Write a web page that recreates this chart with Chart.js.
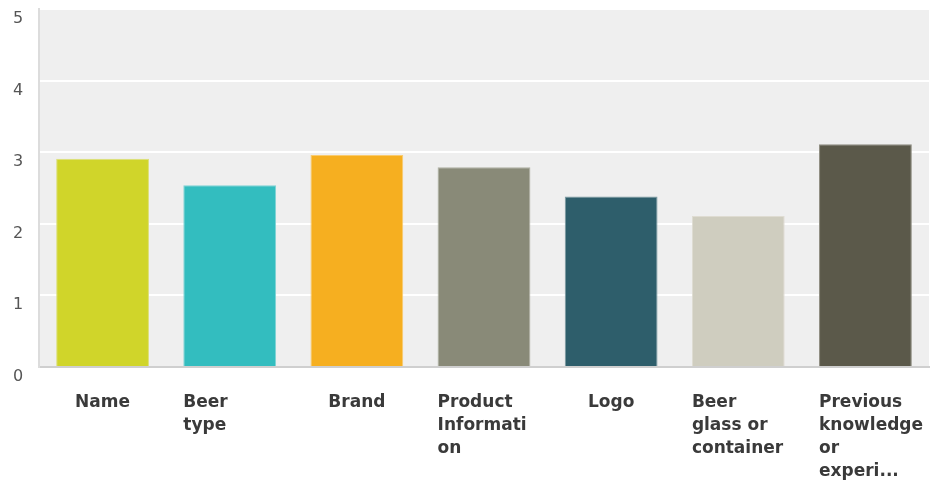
<!DOCTYPE html>
<html>
<head>
<meta charset="utf-8">
<script src="https://cdn.jsdelivr.net/npm/chart.js@4/dist/chart.umd.min.js"></script>
<style>
  body { margin: 0; background: #fff; }
  #chart { display: block; }
</style>
</head>
<body>
<canvas id="chart" width="930" height="481"></canvas>
<script>
// Category labels, already wrapped into lines
const categories = [
  ["Name"],
  ["Beer", "type"],
  ["Brand"],
  ["Product", "Informati", "on"],
  ["Logo"],
  ["Beer", "glass or", "container"],
  ["Previous", "knowledge", "or", "experi..."]
];

// Average rating per item
const values = [2.91, 2.54, 2.96, 2.79, 2.38, 2.11, 3.11];

const barColors = ["#d0d52a", "#33bdbf", "#f6af20", "#898a78", "#2e5e6b", "#cfcdbf", "#5b594a"];
const barBorders = ["#dde07a", "#7fd3d5", "#f9cb70", "#aeafa1", "#7b9aa2", "#dfdcd2", "#8f8d82"];

const yTicks = [0, 1, 2, 3, 4, 5];

// Grey plot background behind the bars
const plotBackground = {
  id: "plotBackground",
  beforeDraw(chart) {
    const { ctx, chartArea: a } = chart;
    ctx.save();
    ctx.fillStyle = "#efefef";
    ctx.fillRect(a.left, a.top, a.right - a.left, a.bottom - a.top);
    ctx.restore();
  }
};

// Axis labels: y numbers sit just under their grid line,
// x labels are centred when short and left-aligned to the bar when wrapped
const axisLabels = {
  id: "axisLabels",
  afterDraw(chart) {
    const { ctx } = chart;
    const x = chart.scales.x;
    const y = chart.scales.y;
    ctx.save();

    ctx.font = "16px 'DejaVu Sans'";
    ctx.fillStyle = "#555";
    ctx.textAlign = "center";
    ctx.textBaseline = "alphabetic";
    yTicks.forEach(v => {
      ctx.fillText(String(v), 18, y.getPixelForValue(v) + 14);
    });

    ctx.font = "bold 17px 'DejaVu Sans'";
    ctx.fillStyle = "#3a3a3a";
    const half = x.width / categories.length * 0.73 / 2;
    categories.forEach((lines, i) => {
      const cx = x.getPixelForValue(i);
      lines.forEach((line, j) => {
        const by = y.bottom + 40 + j * 23;
        if (lines.length === 1) {
          ctx.textAlign = "center";
          ctx.fillText(line, cx, by);
        } else {
          ctx.textAlign = "left";
          ctx.fillText(line, cx - half, by);
        }
      });
    });
    ctx.restore();
  }
};

new Chart(document.getElementById("chart"), {
  type: "bar",
  data: {
    labels: categories.map(l => l.join(" ")),
    datasets: [{
      data: values,
      backgroundColor: barColors,
      borderColor: barBorders,
      borderWidth: 1,
      categoryPercentage: 1,
      barPercentage: 0.73
    }]
  },
  options: {
    responsive: false,
    animation: false,
    layout: { padding: { left: 39, top: 9, right: 1, bottom: 114 } },
    plugins: {
      legend: { display: false },
      tooltip: { enabled: false }
    },
    scales: {
      x: {
        grid: { display: false, drawTicks: false },
        border: { display: true, color: "#cfcfcf", width: 2 },
        ticks: { display: false }
      },
      y: {
        min: 0,
        max: 5,
        grid: { color: "#ffffff", lineWidth: 2, drawTicks: false },
        border: { display: true, color: "#dcdcdc", width: 2 },
        ticks: { display: false, stepSize: 1 }
      }
    }
  },
  plugins: [plotBackground, axisLabels]
});
</script>
</body>
</html>
